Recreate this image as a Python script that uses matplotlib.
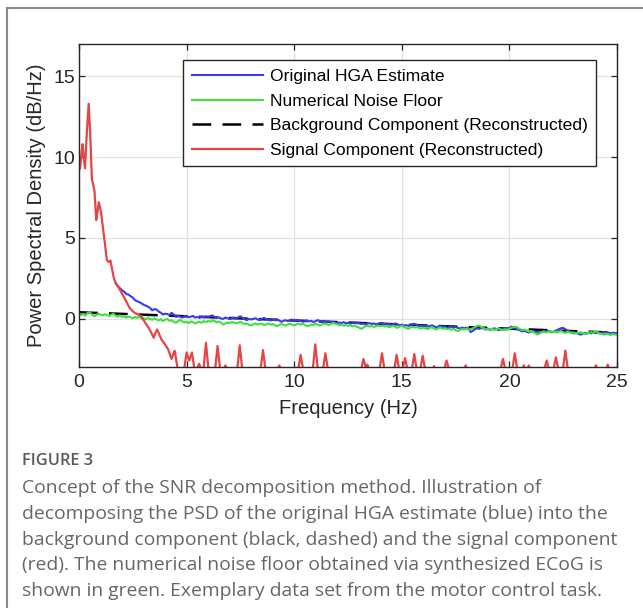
import numpy as np
import matplotlib
matplotlib.use("Agg")
import matplotlib.pyplot as plt
from matplotlib.patches import Rectangle

plt.rcParams['font.family'] = ['Liberation Sans', 'DejaVu Sans']

# frequency grid (Hz) for the noisy spectra
freq = np.round(np.arange(0, 251) * 0.1, 1)

# numerical noise floor (dB/Hz), one row per Hz
noise_floor = [
    0.25, 0.22, 0.28, 0.18, 0.35, 0.38, 0.26, 0.14, 0.22, 0.30,
    0.24, 0.20, 0.27, 0.22, 0.16, 0.24, 0.30, 0.18, 0.12, 0.20,
    0.10, 0.14, 0.06, 0.12, 0.08, 0.02, 0.10, 0.04, 0.12, 0.00,
    0.02, -0.06, 0.04, -0.02, -0.08, 0.02, -0.06, -0.12, -0.04, -0.16,
    -0.08, -0.02, -0.14, -0.10, -0.20, -0.27, -0.16, -0.08, -0.18, -0.24,
    -0.20, -0.28, -0.18, -0.22, -0.30, -0.24, -0.20, -0.26, -0.16, -0.22,
    -0.14, -0.20, -0.10, -0.16, -0.24, -0.18, -0.26, -0.37, -0.30, -0.24,
    -0.28, -0.22, -0.24, -0.30, -0.26, -0.20, -0.28, -0.34, -0.30, -0.38,
    -0.43, -0.36, -0.30, -0.38, -0.32, -0.33, -0.40, -0.36, -0.30, -0.38,
    -0.34, -0.42, -0.47, -0.40, -0.34, -0.38, -0.44, -0.36, -0.32, -0.38,
    -0.42, -0.36, -0.30, -0.38, -0.34, -0.40, -0.47, -0.44, -0.36, -0.40,
    -0.32, -0.38, -0.44, -0.36, -0.30, -0.34, -0.40, -0.34, -0.28, -0.32,
    -0.36, -0.42, -0.38, -0.44, -0.40, -0.46, -0.42, -0.48, -0.44, -0.50,
    -0.56, -0.64, -0.58, -0.48, -0.44, -0.50, -0.46, -0.52, -0.48, -0.44,
    -0.48, -0.43, -0.50, -0.46, -0.54, -0.50, -0.44, -0.52, -0.58, -0.50,
    -0.45, -0.52, -0.58, -0.64, -0.56, -0.50, -0.56, -0.52, -0.58, -0.62,
    -0.56, -0.60, -0.66, -0.58, -0.54, -0.62, -0.68, -0.60, -0.56, -0.64,
    -0.60, -0.66, -0.62, -0.70, -0.64, -0.72, -0.78, -0.70, -0.64, -0.68,
    -0.62, -0.70, -0.66, -0.60, -0.52, -0.46, -0.43, -0.52, -0.60, -0.66,
    -0.62, -0.68, -0.64, -0.70, -0.66, -0.60, -0.68, -0.72, -0.66, -0.70,
    -0.64, -0.58, -0.52, -0.50, -0.58, -0.66, -0.72, -0.68, -0.74, -0.80,
    -0.76, -0.84, -0.90, -0.99, -0.92, -0.84, -0.80, -0.86, -0.82, -0.78,
    -0.84, -0.80, -0.86, -0.82, -0.76, -0.84, -0.88, -0.82, -0.86, -0.90,
    -0.86, -0.92, -0.88, -0.84, -0.90, -0.96, -0.92, -0.88, -0.84, -0.90,
    -0.78, -0.84, -0.92, -0.96, -0.99, -0.94, -0.98, -1.02, -0.96, -0.99,
    -1.00,
]

# original HGA estimate from 1.7 Hz on (below that it lies under the red curve)
hga_start = 17
hga_psd = [
    2.20, 2.02, 1.88,
    1.75, 1.66, 1.52, 1.48, 1.38, 1.30, 1.14, 1.07, 1.02, 0.94,
    0.86, 0.80, 0.74, 0.66, 0.51, 0.58, 0.56, 0.44, 0.36, 0.25,
    0.30, 0.28, 0.22, 0.35, 0.26, 0.10, 0.16, 0.12, 0.06, 0.14,
    0.14, 0.08, 0.12, 0.16, 0.06, 0.10, 0.04, 0.12, 0.06, 0.14,
    0.10, 0.16, 0.19, 0.10, 0.04, 0.08, 0.00, -0.02, 0.06, 0.02,
    -0.04, 0.02, 0.06, -0.02, 0.08, 0.14, 0.04, -0.04, -0.10, -0.02,
    -0.06, -0.02, 0.02, -0.06, -0.10, -0.02, 0.04, -0.04, -0.08, -0.12,
    -0.06, -0.10, -0.04, -0.12, -0.20, -0.14, -0.10, -0.16, -0.10, -0.06,
    -0.12, -0.08, -0.14, -0.15, -0.20, -0.16, -0.12, -0.18, -0.14, -0.22,
    -0.15, -0.10, -0.16, -0.20, -0.14, -0.22, -0.18, -0.24, -0.20, -0.26,
    -0.31, -0.24, -0.28, -0.22, -0.30, -0.26, -0.32, -0.28, -0.24, -0.30,
    -0.26, -0.34, -0.30, -0.36, -0.32, -0.28, -0.34, -0.30, -0.36, -0.32,
    -0.28, -0.27, -0.34, -0.38, -0.32, -0.40, -0.36, -0.30, -0.36, -0.42,
    -0.38, -0.44, -0.40, -0.46, -0.40, -0.34, -0.33, -0.40, -0.46, -0.42,
    -0.48, -0.44, -0.50, -0.46, -0.42, -0.48, -0.54, -0.50, -0.46, -0.52,
    -0.48, -0.58, -0.54, -0.50, -0.56, -0.52, -0.58, -0.62, -0.56, -0.60,
    -0.56, -0.62, -0.84, -0.76, -0.66, -0.60, -0.64, -0.58, -0.62, -0.68,
    -0.64, -0.70, -0.66, -0.60, -0.66, -0.72, -0.68, -0.62, -0.68, -0.64,
    -0.58, -0.50, -0.56, -0.62, -0.68, -0.74, -0.80, -0.76, -0.82, -0.86,
    -0.80, -0.76, -0.82, -0.86, -0.80, -0.84, -0.78, -0.82, -0.76, -0.80,
    -0.84, -0.78, -0.72, -0.66, -0.60, -0.58, -0.66, -0.74, -0.80, -0.86,
    -0.92, -0.88, -0.94, -0.99, -0.96, -0.90, -0.94, -0.88, -0.92, -0.86,
    -0.90, -0.86, -0.92, -0.88, -0.84, -0.90, -0.86, -0.92, -0.88, -0.90,
    -0.90,
]

# reconstructed background component
bg_freq = [0, 5, 10, 15, 20, 25]
bg_psd = [0.39, 0.14, -0.12, -0.37, -0.63, -0.88]

# reconstructed signal component (values below -3 fall outside the axis)
sig_freq = [
    0.0, 0.05, 0.12, 0.17, 0.22, 0.28, 0.35, 0.45, 0.52, 0.6, 0.66, 0.72, 0.8,
    0.86, 0.92, 0.98, 1.05, 1.18, 1.3, 1.38, 1.46, 1.55, 1.62, 1.72, 1.85,
    2.04, 2.2, 2.35, 2.5, 2.59, 2.75, 2.9, 3.0, 3.13, 3.25, 3.36, 3.47, 3.55,
    3.63, 3.72, 3.83, 4.0, 4.14, 4.3, 4.38, 4.45, 4.52, 4.6,
    4.88, 5.0, 5.12, 5.25, 5.37, 5.46, 5.58, 5.7,
    5.78, 5.9, 6.02, 6.32, 6.44, 6.56, 6.7, 6.8, 6.9,
    7.35, 7.47, 7.59, 8.43, 8.55, 8.67, 9.22, 9.31, 9.4,
    10.18, 10.3, 10.42, 10.86, 10.98, 11.1, 11.33, 11.45, 11.57,
    13.1, 13.22, 13.32, 13.4, 13.5, 13.96, 14.08, 14.2,
    14.64, 14.76, 14.88, 15.03, 15.15, 15.27, 15.46, 15.58, 15.7,
    15.85, 15.97, 16.09, 16.42, 16.5, 16.58, 16.96, 17.08, 17.2,
    17.89, 17.97, 18.05, 19.58, 19.7, 19.82, 20.13, 20.25, 20.37,
    20.59, 20.67, 20.75, 20.82, 20.9, 20.98, 21.61, 21.73, 21.85,
    22.04, 22.16, 22.28, 22.48, 22.6, 22.72, 23.94, 24.02, 24.1,
    24.49, 24.57, 24.65, 25.0,
]
sig_psd = [
    9.2, 9.3, 10.3, 10.8, 10.0, 9.3, 11.2, 13.3, 11.5, 8.6, 8.3, 7.9, 6.1,
    6.6, 7.2, 6.9, 6.3, 4.9, 3.6, 3.5, 3.6, 3.0, 2.5, 2.15, 1.9,
    1.45, 1.05, 0.66, 0.45, 0.35, 0.25, 0.14, -0.1, -0.37, -0.6, -0.88, -1.19, -0.9,
    -0.68, -0.95, -1.3, -1.6, -1.9, -2.5, -2.2, -2.0, -2.6, -3.2,
    -3.2, -2.1, -2.6, -2.1, -3.2, -3.2, -2.8, -3.2,
    -3.2, -1.5, -3.2, -3.2, -1.7, -3.2, -3.2, -2.9, -3.2,
    -3.2, -1.65, -3.2, -3.2, -1.95, -3.2, -3.2, -2.9, -3.2,
    -3.2, -2.25, -3.2, -3.2, -1.6, -3.2, -3.2, -2.15, -3.2,
    -3.2, -2.5, -3.0, -2.85, -3.2, -3.2, -2.15, -3.2,
    -3.2, -2.25, -3.2, -3.2, -2.45, -3.2, -3.2, -2.2, -3.2,
    -3.2, -2.3, -3.2, -3.2, -2.95, -3.2, -3.2, -2.6, -3.2,
    -3.2, -2.9, -3.2, -3.2, -2.5, -3.2, -3.2, -2.15, -3.2,
    -3.2, -2.9, -3.2, -3.2, -2.9, -3.2, -3.2, -2.6, -3.2,
    -3.2, -2.4, -3.2, -3.2, -1.98, -3.2, -3.2, -2.9, -3.2,
    -3.2, -2.85, -3.2, -3.2,
]

labels = ['Original HGA Estimate', 'Numerical Noise Floor',
          'Background Component (Reconstructed)', 'Signal Component (Reconstructed)']

caption_title = 'FIGURE 3'
caption_lines = [
    'Concept of the SNR decomposition method. Illustration of',
    'decomposing the PSD of the original HGA estimate (blue) into the',
    'background component (black, dashed) and the signal component',
    '(red). The numerical noise floor obtained via synthesized ECoG is',
    'shown in green. Exemplary data set from the motor control task.',
]

W, H = 643, 608
fig = plt.figure(figsize=(W / 100, H / 100), dpi=100)
ax = fig.add_axes([79 / W, 1 - 367 / H, 538 / W, 323 / H])

l_bg, = ax.plot(bg_freq, bg_psd, color='black', lw=1.8, linestyle=(0, (7.5, 4.5)))
l_hga, = ax.plot(freq[hga_start:], hga_psd, color='#3a3af2', lw=1.5)
l_noise, = ax.plot(freq, noise_floor, color='#3ee03e', lw=1.5)
l_sig, = ax.plot(sig_freq, sig_psd, color='#e64545', lw=1.6, solid_joinstyle='round')

ax.set_xlim(0, 25)
ax.set_ylim(-3, 17)
ax.set_xticks([0, 5, 10, 15, 20, 25])
ax.set_yticks([0, 5, 10, 15])
ax.grid(True, color='#e2e2e2', lw=0.9)
ax.set_axisbelow(True)
ax.tick_params(direction='in', length=4, width=0.9, top=True, right=True,
               labelsize=14, colors='#262626', pad=5)
ax.tick_params(axis='y', pad=3)
for s in ax.spines.values():
    s.set_color('#262626')
    s.set_linewidth(1.0)

ax.set_xlabel('Frequency (Hz)', fontsize=14.5, color='#262626')
ax.set_ylabel('Power Spectral Density (dB/Hz)', fontsize=14.5, color='#262626')
ax.xaxis.set_label_coords(0.5, -0.1)
ax.yaxis.set_label_coords(-0.062, 0.5)

leg = ax.legend([l_hga, l_noise, l_bg, l_sig], labels, loc='upper left',
                bbox_to_anchor=(0.1933, 0.95), borderaxespad=0, fontsize=12.6,
                handlelength=4.1, handletextpad=0.35, borderpad=0.5,
                labelspacing=0.53, fancybox=False, framealpha=1)
leg.get_frame().set_edgecolor('#262626')
leg.get_frame().set_linewidth(1.0)

# page frame around the figure panel
fig.add_artist(Rectangle((7 / W, -0.5), 2, 1 - 8 / H + 0.5, transform=fig.transFigure,
                         fill=False, edgecolor='#8a8a8a', lw=1.5))

fig.text(22 / W, 1 - 461 / H, caption_title, fontsize=11.8, color='#5a5a5a',
         family=['Open Sans', 'DejaVu Sans'], weight='semibold', va='center')
for i, line in enumerate(caption_lines):
    fig.text(22 / W, 1 - (488 + 25.8 * i) / H, line, fontsize=13.9, color='#666666',
             family=['Open Sans', 'DejaVu Sans'], va='center')

fig.savefig('out.png', dpi=100)
